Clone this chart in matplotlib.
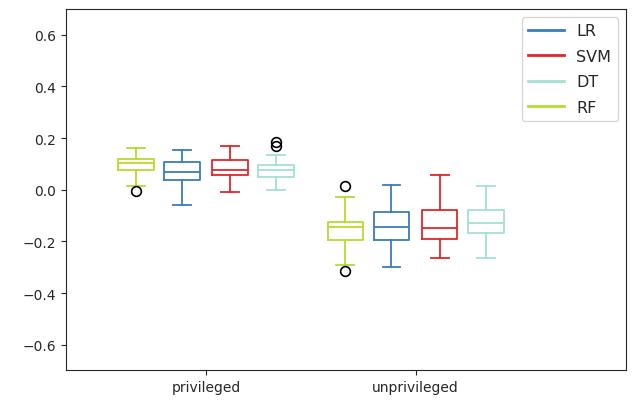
import numpy as np
import matplotlib
matplotlib.use('Agg')
import matplotlib.pyplot as plt
from matplotlib.lines import Line2D

# group labels and model order (left to right inside a group)
groups = ['privileged', 'unprivileged']
models = ['RF', 'LR', 'SVM', 'DT']
legend_order = ['LR', 'SVM', 'DT', 'RF']
colors = {'LR': '#3a7dbb', 'SVM': '#e0262a', 'DT': '#a3e1d4', 'RF': '#b4dc2c'}

# box statistics, one entry per group
whislo = {'RF': [0.015, -0.292], 'LR': [-0.058, -0.301], 'SVM': [-0.008, -0.266], 'DT': [-0.001, -0.266]}
q1 = {'RF': [0.076, -0.195], 'LR': [0.037, -0.195], 'SVM': [0.057, -0.191], 'DT': [0.050, -0.169]}
med = {'RF': [0.103, -0.146], 'LR': [0.070, -0.143], 'SVM': [0.076, -0.150], 'DT': [0.076, -0.129]}
q3 = {'RF': [0.121, -0.124], 'LR': [0.108, -0.085], 'SVM': [0.115, -0.079], 'DT': [0.097, -0.079]}
whishi = {'RF': [0.161, -0.027], 'LR': [0.154, 0.018], 'SVM': [0.168, 0.057], 'DT': [0.135, 0.013]}
fliers = {'RF': [[-0.005], [0.013, -0.316]], 'LR': [[], []], 'SVM': [[], []], 'DT': [[0.186, 0.170], []]}

offsets = [-0.335, -0.115, 0.115, 0.335]
group_pos = np.arange(1, len(groups) + 1)

plt.rcParams['text.color'] = '#262626'
plt.rcParams['xtick.color'] = '#262626'
plt.rcParams['ytick.color'] = '#262626'
plt.rcParams['axes.edgecolor'] = '#262626'

fig = plt.figure(figsize=(6.34, 4.02), dpi=100)
ax = fig.add_axes([0.104, 0.076, 0.883, 0.899])

for m, off in zip(models, offsets):
    stats = []
    for g in range(len(groups)):
        stats.append(dict(med=med[m][g], q1=q1[m][g], q3=q3[m][g],
                          whislo=whislo[m][g], whishi=whishi[m][g],
                          fliers=fliers[m][g]))
    c = colors[m]
    ax.bxp(stats, positions=group_pos + off, widths=0.17, showfliers=True,
           boxprops=dict(color=c, linewidth=1.3),
           medianprops=dict(color=c, linewidth=1.3),
           whiskerprops=dict(color=c, linewidth=1.3),
           capprops=dict(color=c, linewidth=1.3),
           flierprops=dict(marker='o', markerfacecolor='none',
                           markeredgecolor='black', markersize=7, markeredgewidth=1.2))

ax.set_xticks(group_pos)
ax.set_xticklabels(groups)
ax.set_xlim(0.332, 3.003)
ax.set_ylim(-0.7, 0.7)
ax.set_yticks([-0.6, -0.4, -0.2, 0.0, 0.2, 0.4, 0.6])

handles = [Line2D([0], [0], color=colors[m], linewidth=2) for m in legend_order]
ax.legend(handles, legend_order, loc='upper right', fontsize=11.5,
          handlelength=2.2, labelspacing=0.65)

fig.savefig('out.png', dpi=100)
